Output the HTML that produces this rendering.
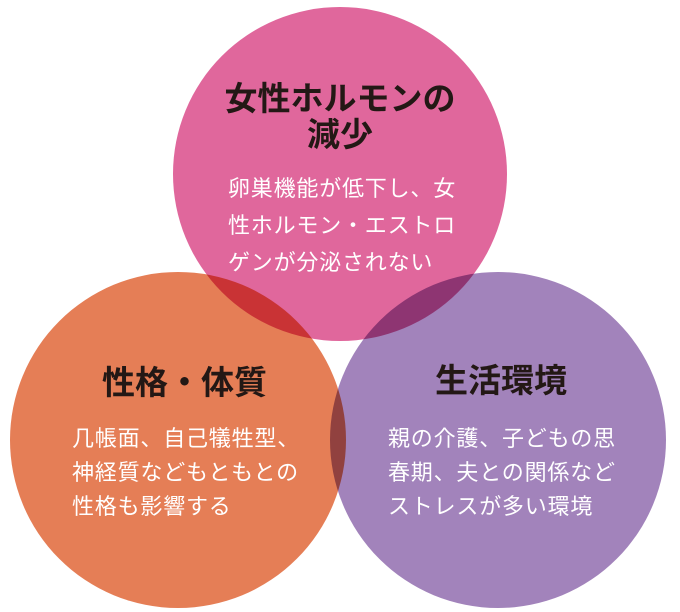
<!DOCTYPE html>
<html><head><meta charset="utf-8"><style>
html,body{margin:0;padding:0;background:#fff;width:680px;height:612px;overflow:hidden;position:relative;font-family:"Liberation Sans","Noto Sans CJK JP",sans-serif}
.c{position:absolute;border-radius:50%;mix-blend-mode:multiply}
.t{position:absolute;white-space:nowrap;line-height:1}
.h{font-weight:bold;color:#231815;font-size:33px}
.b{color:#fff;font-size:22px;letter-spacing:0.8px}
</style></head><body>
<div class="c" style="left:173px;top:7px;width:334px;height:334px;background:#e0679c"></div>
<div class="c" style="left:10px;top:272px;width:336px;height:336px;background:#e57e56"></div>
<div class="c" style="left:330px;top:272px;width:336px;height:336px;background:#a283bb"></div>

<div class="t h" style="left:0;width:680px;text-align:center;top:82px">女性ホルモンの</div>
<div class="t h" style="left:0;width:680px;text-align:center;top:118px">減少</div>
<div class="t b" style="left:228px;top:178px">卵巣機能が低下し、女</div>
<div class="t b" style="left:228px;top:215px">性ホルモン・エストロ</div>
<div class="t b" style="left:228px;top:252px">ゲンが分泌されない</div>

<div class="t h" style="left:102px;top:366px">性格・体質</div>
<div class="t b" style="left:72px;top:428px">几帳面、自己犠牲型、</div>
<div class="t b" style="left:72px;top:462px">神経質などもともとの</div>
<div class="t b" style="left:72px;top:496px">性格も影響する</div>

<div class="t h" style="left:435px;top:364px">生活環境</div>
<div class="t b" style="left:388px;top:428px">親の介護、子どもの思</div>
<div class="t b" style="left:388px;top:462px">春期、夫との関係など</div>
<div class="t b" style="left:388px;top:496px">ストレスが多い環境</div>
</body></html>
